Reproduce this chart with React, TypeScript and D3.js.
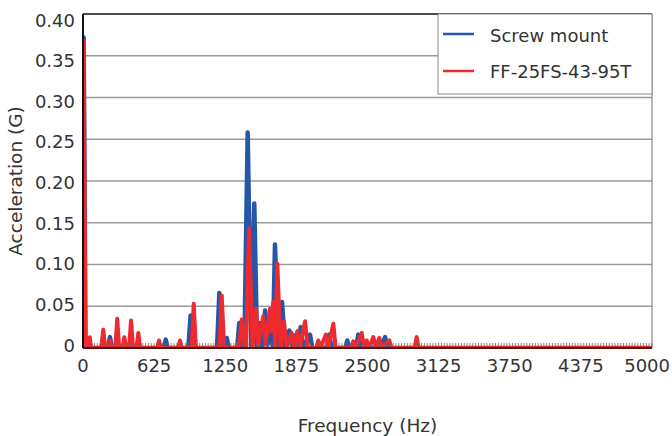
import React from "react";
import * as d3 from "d3";

const xTicks = [0, 625, 1250, 1875, 2500, 3125, 3750, 4375, 5000];
const yTicks = [0, 0.05, 0.1, 0.15, 0.2, 0.25, 0.3, 0.35, 0.4];
const yTickLabels = ["0", "0.05", "0.10", "0.15", "0.20", "0.25", "0.30", "0.35", "0.40"];
const seriesNames = ["Screw mount", "FF-25FS-43-95T"];
const seriesColors = ["#2656a8", "#ee2a2e"];

// [frequency Hz, acceleration G]
const screwMount: [number, number][] = [
  [0, 0.3], [6, 0.372], [22, 0],
  [220, 0], [237, 0.013], [254, 0],
  [710, 0], [727, 0.01], [744, 0],
  [925, 0], [946, 0.039], [962, 0],
  [1178, 0], [1198, 0.066], [1215, 0.02], [1230, 0], [1263, 0.012], [1280, 0],
  [1355, 0], [1373, 0.03], [1392, 0.004], [1418, 0], [1447, 0.258], [1478, 0],
  [1505, 0.173], [1530, 0], [1555, 0.03], [1575, 0], [1600, 0.045], [1622, 0.004],
  [1650, 0.035], [1668, 0], [1687, 0.124], [1720, 0], [1749, 0.055], [1775, 0],
  [1813, 0.021], [1840, 0], [1860, 0.015], [1880, 0], [1913, 0.025], [1935, 0],
  [1995, 0.016], [2015, 0],
  [2145, 0], [2164, 0.016], [2185, 0],
  [2305, 0], [2322, 0.009], [2340, 0],
  [2400, 0], [2419, 0.016], [2440, 0],
  [2580, 0], [2600, 0.008], [2620, 0], [2654, 0.013], [2675, 0],
  [5000, 0],
];

const ff25fs: [number, number][] = [
  [0, 0.3], [6, 0.368], [22, 0],
  [45, 0], [59, 0.013], [72, 0],
  [160, 0], [178, 0.022], [195, 0],
  [222, 0], [237, 0.009], [252, 0],
  [283, 0], [301, 0.035], [318, 0],
  [348, 0], [363, 0.013], [378, 0],
  [405, 0], [422, 0.033], [440, 0],
  [470, 0], [486, 0.018], [502, 0],
  [652, 0], [668, 0.009], [684, 0],
  [836, 0], [852, 0.009], [868, 0],
  [955, 0], [973, 0.053], [992, 0],
  [1200, 0], [1219, 0.063], [1240, 0],
  [1370, 0], [1395, 0.034], [1420, 0.004], [1432, 0], [1459, 0.143], [1490, 0],
  [1520, 0.047], [1540, 0.004], [1584, 0.038], [1605, 0.004], [1643, 0.047],
  [1655, 0.02], [1672, 0.055], [1690, 0], [1708, 0.101], [1735, 0],
  [1766, 0.032], [1790, 0], [1834, 0.018], [1855, 0], [1883, 0.02], [1905, 0],
  [1951, 0.032], [1975, 0],
  [2050, 0], [2068, 0.009], [2085, 0], [2135, 0.016], [2155, 0], [2200, 0.029], [2220, 0],
  [2355, 0], [2375, 0.008], [2395, 0], [2449, 0.018], [2470, 0], [2493, 0.009],
  [2515, 0], [2551, 0.013], [2575, 0], [2604, 0.012], [2625, 0], [2692, 0.009], [2710, 0],
  [2915, 0], [2932, 0.013], [2950, 0],
  [5000, 0],
];

const W = 672;
const H = 436;
const L = 83, R = 652, T = 14, B = 348;
const FONT = "'DejaVu Sans', sans-serif";

export default function App() {
  const x = d3.scaleLinear().domain([0, 5000]).range([L, R]);
  const y = d3.scaleLinear().domain([0, 0.4]).range([B, T]);
  // tick labels sit on a slightly compressed ladder in the reference
  const yLab = d3.scaleLinear().domain([0, 0.4]).range([345, 20]);
  const line = d3
    .line<[number, number]>()
    .x((d) => x(d[0]))
    .y((d) => y(d[1]));
  const minor = d3.range(0, 5001, 25);

  return (
    <svg width={W} height={H} style={{ position: "absolute", left: 0, top: 0, background: "#fff" }}>
      <defs>
        <clipPath id="plot">
          <rect x={L} y={T - 5} width={R - L} height={B - T + 4} />
        </clipPath>
      </defs>
      <rect x={0} y={0} width={W} height={H} fill="#fff" />
      {yTicks.slice(1, -1).map((t) => (
        <line key={t} x1={L} x2={R} y1={y(t)} y2={y(t)} stroke="#9a9a9a" strokeWidth={1.5} />
      ))}
      <line x1={R} x2={R} y1={T} y2={B} stroke="#8a8a8a" strokeWidth={1.2} />
      <line x1={L} x2={R} y1={T} y2={T} stroke="#111" strokeWidth={1.5} />
      <g clipPath="url(#plot)">
        <path d={line(screwMount) || ""} fill="none" stroke={seriesColors[0]} strokeWidth={4.5} strokeLinejoin="round" strokeLinecap="round" />
        <path d={line(ff25fs) || ""} fill="none" stroke={seriesColors[1]} strokeWidth={4} strokeLinejoin="round" strokeLinecap="round" />
      </g>
      {minor.map((m) => (
        <line key={m} x1={x(m)} x2={x(m)} y1={B - 1.5} y2={B - 5} stroke="#666" strokeWidth={0.8} />
      ))}
      <line x1={L} x2={R} y1={B} y2={B} stroke="#5a1212" strokeWidth={1.8} />
      <line x1={L} x2={L} y1={T} y2={B} stroke="#111" strokeWidth={2} />
      {yTicks.map((t, i) => (
        <text key={t} x={75} y={yLab(t) + 6.5} textAnchor="end" fontFamily={FONT} fontSize={18} fill="#333">
          {yTickLabels[i]}
        </text>
      ))}
      {xTicks.map((t, i) => (
        <text
          key={t}
          x={i === xTicks.length - 1 ? 670 : x(t)}
          y={372}
          textAnchor={i === xTicks.length - 1 ? "end" : "middle"}
          fontFamily={FONT}
          fontSize={18}
          fill="#333"
        >
          {t}
        </text>
      ))}
      <text x={(L + R) / 2} y={432} textAnchor="middle" fontFamily={FONT} fontSize={18.5} fill="#333">
        Frequency (Hz)
      </text>
      <text transform={`translate(22, 181) rotate(-90)`} textAnchor="middle" fontFamily={FONT} fontSize={18.5} fill="#333">
        Acceleration (G)
      </text>
      <g>
        <rect x={438} y={14} width={214} height={80} fill="#fff" stroke="#8a8a8a" strokeWidth={1} />
        {seriesNames.map((n, i) => (
          <g key={n}>
            <line x1={443} x2={474} y1={34 + i * 37} y2={34 + i * 37} stroke={seriesColors[i]} strokeWidth={2.5} />
            <text x={490} y={42 + i * 36} fontFamily={FONT} fontSize={18} fill="#333">
              {n}
            </text>
          </g>
        ))}
      </g>
    </svg>
  );
}
